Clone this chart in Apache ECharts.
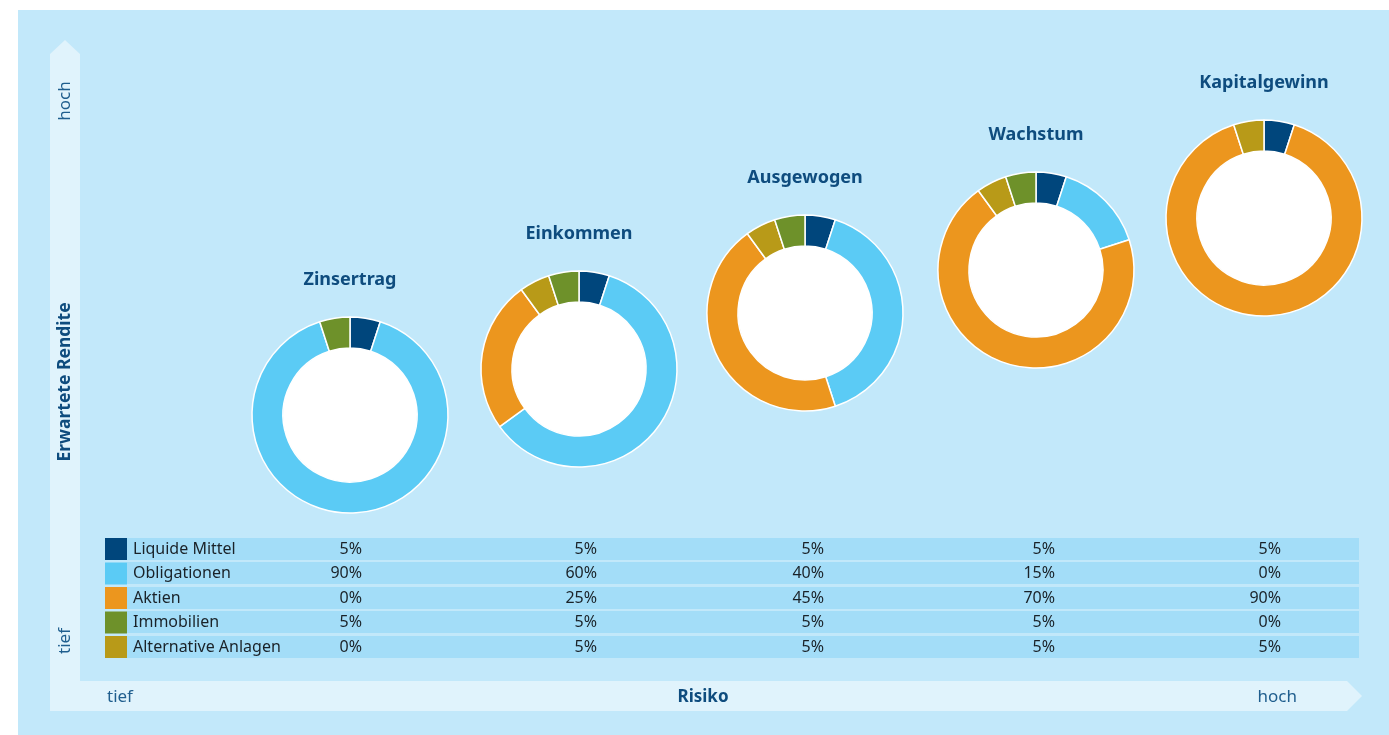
<!DOCTYPE html>
<html>
<head>
<meta charset="utf-8">
<script src="https://cdn.jsdelivr.net/npm/echarts@6/dist/echarts.min.js"></script>
<style>
  html, body { margin: 0; padding: 0; background: #fff; }
  #main { width: 1389px; height: 735px; }
</style>
</head>
<body>
<div id="main"></div>
<script>
// Anlageklassen (Tabellenreihenfolge)
var categories = ['Liquide Mittel', 'Obligationen', 'Aktien', 'Immobilien', 'Alternative Anlagen'];
var portfolios = ['Zinsertrag', 'Einkommen', 'Ausgewogen', 'Wachstum', 'Kapitalgewinn'];

var liquide = [5, 5, 5, 5, 5];
var obligationen = [90, 60, 40, 15, 0];
var aktien = [0, 25, 45, 70, 90];
var immobilien = [5, 5, 5, 5, 0];
var alternative = [0, 5, 5, 5, 5];

var values = [liquide, obligationen, aktien, immobilien, alternative];
var colors = ['#00467c', '#5bcbf5', '#ec961e', '#6e912a', '#b89a18'];
// Reihenfolge der Segmente im Uhrzeigersinn
var sliceOrder = [0, 1, 2, 4, 3];

var centers = [[350, 415], [579, 369], [805, 313], [1036, 270], [1264, 218]];
var colRight = [362, 597, 824, 1055, 1281];
var rowTop = [538, 562, 587, 611, 636];

var myChart = echarts.init(document.getElementById('main'));

var series = [];
var titles = [];
var graphics = [
	{ type: 'rect', shape: { x: 18, y: 10, width: 1371, height: 725 }, style: { fill: '#c2e8fa' }, z: -10 },
	{ type: 'polygon', shape: { points: [[50, 711], [50, 54], [65, 40], [80, 54], [80, 711]] }, style: { fill: '#e0f3fc' }, z: -9 },
	{ type: 'polygon', shape: { points: [[50, 681], [1347, 681], [1362, 696], [1347, 711], [50, 711]] }, style: { fill: '#e0f3fc' }, z: -9 },
	{ type: 'text', x: 65, y: 101, rotation: Math.PI / 2, style: { text: 'hoch', fill: '#1f5e8e', font: '17px "Noto Sans"', align: 'center', verticalAlign: 'middle' } },
	{ type: 'text', x: 65, y: 641, rotation: Math.PI / 2, style: { text: 'tief', fill: '#1f5e8e', font: '17px "Noto Sans"', align: 'center', verticalAlign: 'middle' } },
	{ type: 'text', x: 65, y: 382, rotation: Math.PI / 2, style: { text: 'Erwartete Rendite', fill: '#0e4c7e', font: 'bold 17.5px "Noto Sans"', align: 'center', verticalAlign: 'middle' } },
	{ type: 'text', x: 107, y: 697, style: { text: 'tief', fill: '#1f5e8e', font: '17px "Noto Sans"', align: 'left', verticalAlign: 'middle' } },
	{ type: 'text', x: 703, y: 697, style: { text: 'Risiko', fill: '#0e4c7e', font: 'bold 17px "Noto Sans"', align: 'center', verticalAlign: 'middle' } },
	{ type: 'text', x: 1297, y: 697, style: { text: 'hoch', fill: '#1f5e8e', font: '17px "Noto Sans"', align: 'right', verticalAlign: 'middle' } }
];

portfolios.forEach(function (p, i) {
	var data = [];
	sliceOrder.forEach(function (k) {
		if (values[k][i] > 0) {
			data.push({ name: categories[k], value: values[k][i], itemStyle: { color: colors[k] } });
		}
	});
	series.push({
		name: p,
		type: 'pie',
		center: centers[i],
		radius: [67, 98],
		startAngle: 90,
		clockwise: true,
		label: { show: false },
		labelLine: { show: false },
		emphasis: { disabled: true },
		itemStyle: { borderColor: '#fff', borderWidth: 1.5 },
		data: data
	});
	// weisse Innenflaeche
	graphics.push({ type: 'circle', shape: { cx: centers[i][0], cy: centers[i][1], r: 67 }, style: { fill: '#ffffff' }, z: -5 });
	titles.push({
		text: p,
		left: centers[i][0],
		top: centers[i][1] - 144,
		textAlign: 'center',
		padding: 0,
		textStyle: { fontFamily: 'Noto Sans', fontSize: 18, fontWeight: 'bold', color: '#0e4c7e' }
	});
});

rowTop.forEach(function (y, r) {
	graphics.push({ type: 'rect', shape: { x: 127, y: y, width: 1232, height: 22 }, style: { fill: '#a3ddf8' }, z: -8 });
	values[r].forEach(function (v, i) {
		graphics.push({
			type: 'text', x: colRight[i], y: y + 11,
			style: { text: v + '%', fill: '#1a2228', font: '16px "Noto Sans"', align: 'right', verticalAlign: 'middle' }
		});
	});
});

option = {
	backgroundColor: '#ffffff',
	title: titles,
	legend: {
		data: categories.map(function (c, k) { return { name: c, itemStyle: { color: colors[k], borderWidth: 0 } }; }),
		orient: 'vertical',
		left: 105,
		top: 538,
		padding: 0,
		icon: 'rect',
		itemWidth: 22,
		itemHeight: 22,
		itemGap: 2.5,
		selectedMode: false,
		textStyle: { fontFamily: 'Noto Sans', fontSize: 16, color: '#1a2228', padding: [0, 0, 0, 1] }
	},
	graphic: graphics,
	series: series
};
myChart.setOption(option);
</script>
</body>
</html>
